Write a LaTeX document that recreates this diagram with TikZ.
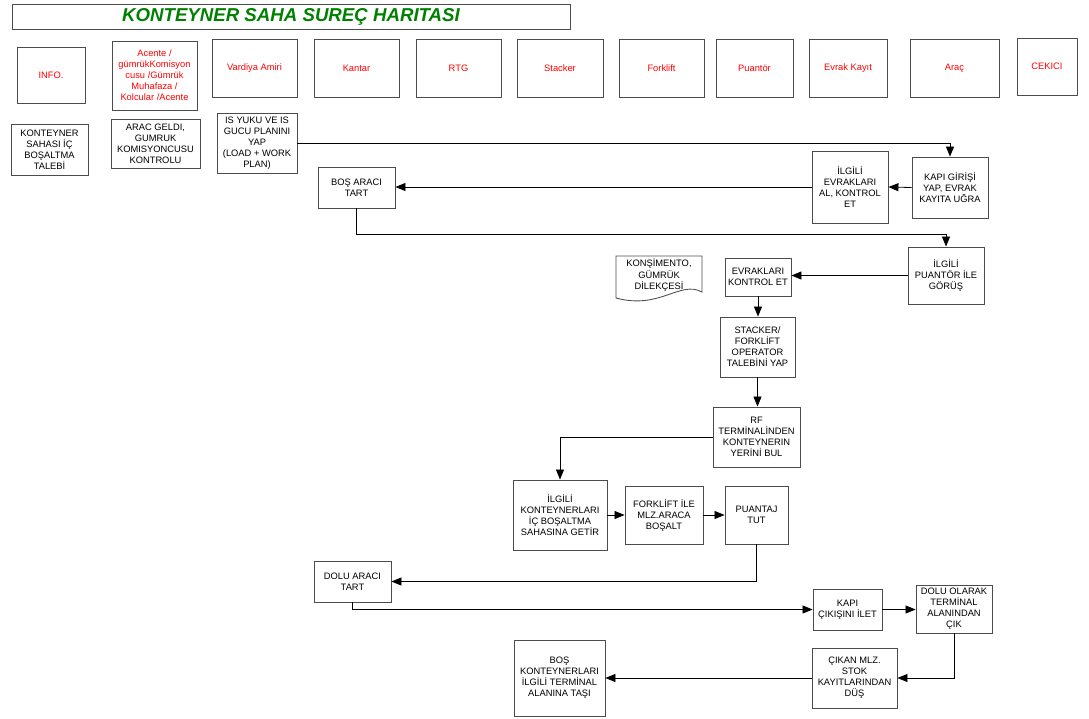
\documentclass[tikz,border=0pt]{standalone}
\usepackage{fontspec}
\setmainfont{Liberation Sans}
\usepackage{tikz}
\usetikzlibrary{arrows.meta}
\definecolor{titlegreen}{RGB}{0,128,0}
\tikzset{
  sz/.style 2 args={minimum width=#1*0.75pt, minimum height=#2*0.75pt},
  box/.style={draw=black!70, line width=0.65pt, align=center, inner sep=1pt,
              font=\fontsize{7}{8.3}\selectfont},
  role/.style={box, text=red},
  conn/.style={line width=0.6pt, -{Triangle[length=7.5pt,width=6pt]}},
}

\begin{document}
\begin{tikzpicture}[x=0.75pt, y=-0.75pt]
  \useasboundingbox (0,0) rectangle (1089,718);

  \node[draw=black!70, line width=0.65pt, sz={558}{24}, text=titlegreen,
        font=\bfseries\itshape\fontsize{14}{16}\selectfont] (title) at (291,17)
        {KONTEYNER SAHA SUREÇ HARITASI};

  \node[role, sz={68}{56}] (info)       at (51,75)      {INFO.};
  \node[role, sz={85}{69}] (acente)     at (154.5,75.5) {Acente /\\gümrükKomisyon\\cusu /Gümrük\\Muhafaza /\\Kolcular /Acente};
  \node[role, sz={85}{58}] (vardiya)    at (254.5,68)   {Vardiya Amiri};
  \node[role, sz={85}{58}] (kantar)     at (356.5,68)   {Kantar};
  \node[role, sz={85}{58}] (rtg)        at (458.5,68)   {RTG};
  \node[role, sz={86}{58}] (stacker)    at (560,68)     {Stacker};
  \node[role, sz={85}{58}] (forklift)   at (661.5,68)   {Forklift};
  \node[role, sz={77}{58}] (puantor)    at (754.5,68)   {Puantör};
  \node[role, sz={78}{58}] (evrakkayit) at (848,68)     {Evrak Kayıt};
  \node[role, sz={89}{58}] (arac)       at (954.5,68)   {Araç};
  \node[role, sz={60}{57}] (cekici)     at (1047,66.5)  {CEKICI};

  \node[box, sz={77}{51}] (talep)   at (49.5,149.5) {KONTEYNER\\SAHASI İÇ\\BOŞALTMA\\TALEBİ};
  \node[box, sz={89}{49}] (gumruk)  at (155.5,143.5) {ARAC GELDI,\\GUMRUK\\KOMISYONCUSU\\KONTROLU};
  \node[box, sz={80}{60}] (plan)    at (257,143)    {IS YUKU VE IS\\GUCU PLANINI\\YAP\\(LOAD + WORK\\PLAN)};
  \node[box, sz={76}{61}] (kapi)    at (950,187.5)  {KAPI GİRİŞİ\\YAP, EVRAK\\KAYITA UĞRA};
  \node[box, sz={76}{72}] (evrakal) at (850,187)    {İLGİLİ\\EVRAKLARI\\AL, KONTROL\\ET};
  \node[box, sz={77}{41}] (bostart) at (356.5,187.5) {BOŞ ARACI\\TART};
  \node[box, sz={76}{57}] (gorus)   at (946,275.5)  {İLGİLİ\\PUANTÖR İLE\\GÖRÜŞ};
  \node[box, sz={66}{38}] (evrakkontrol) at (758,277) {EVRAKLARI\\KONTROL ET};
  \node[box, sz={75}{60}] (talebi)  at (757.5,347)  {STACKER/\\FORKLİFT\\OPERATOR\\TALEBİNİ YAP};
  \node[box, sz={87}{60}] (rf)      at (756.5,437)  {RF\\TERMİNALİNDEN\\KONTEYNERIN\\YERİNİ BUL};
  \node[box, sz={94}{70}] (getir)   at (560,515)    {İLGİLİ\\KONTEYNERLARI\\İÇ BOŞALTMA\\SAHASINA GETİR};
  \node[box, sz={78}{58}] (bosalt)  at (664,515)    {FORKLİFT İLE\\MLZ.ARACA\\BOŞALT};
  \node[box, sz={63}{58}] (puantaj) at (756.5,515)  {PUANTAJ\\TUT};
  \node[box, sz={77}{41}] (dolutart) at (352.5,581.5) {DOLU ARACI\\TART};
  \node[box, sz={69}{41}] (cikis)   at (847.5,609.5) {KAPI\\ÇIKIŞINI İLET};
  \node[box, sz={76}{48}] (cik)     at (954,609)    {DOLU OLARAK\\TERMİNAL\\ALANINDAN\\ÇIK};
  \node[box, sz={85}{60}] (stok)    at (854.5,678)  {ÇIKAN MLZ.\\STOK\\KAYITLARINDAN\\DÜŞ};
  \node[box, sz={91}{76}] (tasi)    at (559.5,678)  {BOŞ\\KONTEYNERLARI\\İLGİLİ TERMİNAL\\ALANINA TAŞI};

  \draw[draw=black!70, line width=0.65pt] (616,256) -- (702,256) -- (702,292)
        .. controls (680,280) and (660,310) .. (616,298) -- cycle;
  \node[align=center, font=\fontsize{7}{8.3}\selectfont] (belge) at (659,275)
        {KONŞİMENTO,\\GÜMRÜK\\DİLEKÇESİ};

  \draw[conn] (plan.east) -| (kapi.north);
  \draw[conn] (kapi.west) -- (evrakal.east);
  \draw[conn] (evrakal.west) -- (evrakal.west -| bostart.east);
  \draw[conn] (bostart.south) -- ++(0,26) -| (gorus.north);
  \draw[conn] (gorus.west) -- (gorus.west -| evrakkontrol.east);
  \draw[conn] (evrakkontrol.south) -- (evrakkontrol.south |- talebi.north);
  \draw[conn] (talebi.south) -- (talebi.south |- rf.north);
  \draw[conn] (rf.west) -| (getir.north);
  \draw[conn] (getir.east) -- (bosalt.west);
  \draw[conn] (bosalt.east) -- (puantaj.west);
  \draw[conn] (puantaj.south) |- (dolutart.east);
  \draw[conn] (dolutart.south) |- (cikis.west);
  \draw[conn] (cikis.east) -- (cikis.east -| cik.west);
  \draw[conn] (cik.south) |- (stok.east);
  \draw[conn] (stok.west) -- (tasi.east);
\end{tikzpicture}
\end{document}
